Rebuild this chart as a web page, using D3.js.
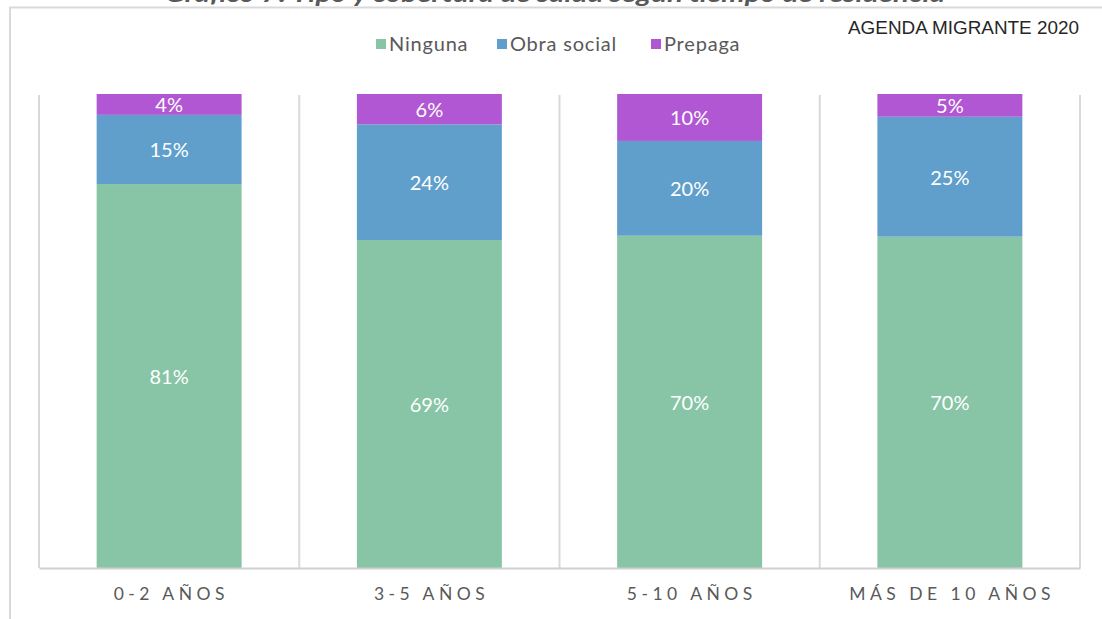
<!DOCTYPE html>
<meta charset="utf-8">
<style>
body { margin: 0; background: #fff; }
svg { display: block; }
.lbl { font-family: Lato, "Noto Sans", sans-serif; fill: #fff; font-size: 20px; }
.legend text { font-family: Lato, "Noto Sans", sans-serif; font-size: 20px; fill: #595959; letter-spacing: 0.8px; }
.cat { font-family: Lato, "Noto Sans", sans-serif; font-size: 17.5px; fill: #595959; letter-spacing: 4.5px; }
</style>
<svg width="1102" height="619"></svg>
<script src="https://cdn.jsdelivr.net/npm/d3@7"></script>
<script>

var categories = ["0-2 AÑOS", "3-5 AÑOS", "5-10 AÑOS", "MÁS DE 10 AÑOS"];
var keys = ["Ninguna", "Obra social", "Prepaga"];
var ninguna = [81.0, 69.2, 70.1, 69.9];
var obraSocial = [14.6, 24.4, 20.0, 25.3];
var prepaga = [4.4, 6.4, 9.9, 4.8];
var colors = ["#88c5a6", "#609fcb", "#b157d3"];

var rows = categories.map(function(c, i) {
  return { cat: c, "Ninguna": ninguna[i], "Obra social": obraSocial[i], "Prepaga": prepaga[i] };
});

var svg = d3.select("svg");

// outer frame (cut by the window)
svg.append("path")
    .attr("d", "M10,619 V7.5 H1102")
    .attr("fill", "none")
    .attr("stroke", "#d9d9d9")
    .attr("stroke-width", 2);

// title, mostly above the window in the original
svg.append("text")
    .attr("x", 165).attr("y", 2)
    .attr("textLength", 780)
    .attr("lengthAdjust", "spacingAndGlyphs")
    .style("font-family", "Lato, sans-serif")
    .style("font-style", "italic")
    .style("font-weight", "bold")
    .style("font-size", "22px")
    .style("fill", "#595959")
    .text("Gráfico 7: Tipo y cobertura de salud según tiempo de residencia");

svg.append("text")
    .attr("x", 848).attr("y", 34)
    .attr("textLength", 231)
    .attr("lengthAdjust", "spacingAndGlyphs")
    .style("font-family", "'Liberation Sans Narrow', 'Liberation Sans', sans-serif")
    .style("font-size", "18px")
    .style("fill", "#262626")
    .text("AGENDA MIGRANTE 2020");

var x = d3.scaleBand().domain(categories).range([39, 1080]).paddingInner(0).paddingOuter(0);
var y = d3.scaleLinear().domain([0, 1]).range([568, 94]);

var series = d3.stack().keys(keys).offset(d3.stackOffsetExpand)(rows);

// separators
var bounds = categories.map(function(c) { return x(c); }).concat([x.range()[1]]);
svg.append("g").selectAll("line")
  .data(bounds)
  .enter().append("line")
    .attr("x1", function(d) { return d; })
    .attr("x2", function(d) { return d; })
    .attr("y1", 95)
    .attr("y2", 568)
    .attr("stroke", "#d9d9d9")
    .attr("stroke-width", 2);

var barW = x.bandwidth() * 0.557;

var groups = svg.append("g").selectAll("g")
  .data(series)
  .enter().append("g")
    .attr("fill", function(d, i) { return colors[i]; });

groups.selectAll("rect")
  .data(function(d) { return d; })
  .enter().append("rect")
    .attr("x", function(d) { return x(d.data.cat) + (x.bandwidth() - barW) / 2; })
    .attr("width", barW)
    .attr("y", function(d) { return y(d[1]); })
    .attr("height", function(d) { return y(d[0]) - y(d[1]); });

var fmt = d3.format(".0%");
groups.selectAll("text")
  .data(function(d) { return d; })
  .enter().append("text")
    .attr("class", "lbl")
    .attr("text-anchor", "middle")
    .attr("dominant-baseline", "central")
    .attr("x", function(d) { return x(d.data.cat) + x.bandwidth() / 2; })
    .attr("y", function(d) { return (y(d[0]) + y(d[1])) / 2; })
    .text(function(d) { return fmt(d[1] - d[0]); });

// x axis
var xAxis = svg.append("g")
    .attr("transform", "translate(0,568)")
    .call(d3.axisBottom(x).tickSize(0).tickPadding(16));
xAxis.select(".domain").attr("stroke", "#d0d0d0").attr("stroke-width", 2);
xAxis.selectAll("text").attr("class", "cat").attr("fill", null).style("font-size", null).style("font-family", null)
    .attr("dy", "0.9em").attr("dx", "2.2");

// legend
var legendX = [376, 497, 651];
var leg = svg.append("g").attr("class", "legend").selectAll("g")
  .data(keys)
  .enter().append("g")
    .attr("transform", function(d, i) { return "translate(" + legendX[i] + ",44)"; });
leg.append("rect")
    .attr("y", -5).attr("width", 10).attr("height", 10)
    .attr("fill", function(d, i) { return colors[i]; });
leg.append("text")
    .attr("x", 13)
    .attr("dy", "0.35em")
    .text(function(d) { return d; });

</script>
